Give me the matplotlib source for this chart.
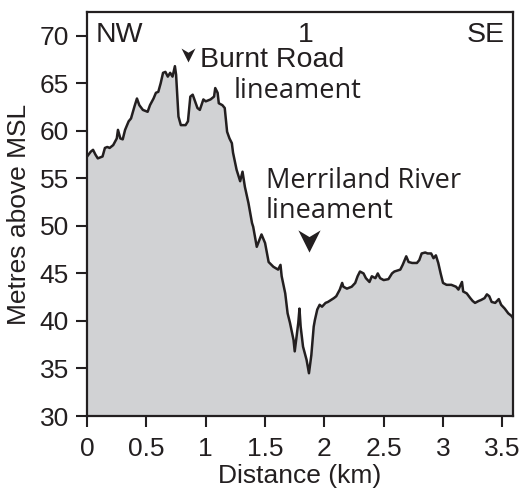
import numpy as np
import matplotlib.pyplot as plt
from matplotlib.path import Path

# profile 1: distance (km) vs elevation (m above MSL)
dist_km = [0.00, 0.03, 0.05, 0.07, 0.09, 0.13, 0.15, 0.17, 0.19, 0.22,
           0.25, 0.26, 0.28, 0.30, 0.32, 0.35, 0.37, 0.40, 0.42, 0.44,
           0.47, 0.51, 0.53, 0.56, 0.58, 0.60, 0.62, 0.64, 0.66, 0.68,
           0.70, 0.72, 0.74, 0.75, 0.77, 0.79, 0.83, 0.85, 0.87, 0.89,
           0.91, 0.93, 0.95, 0.98, 1.00, 1.04, 1.07, 1.08, 1.10, 1.11,
           1.14, 1.16, 1.18, 1.20, 1.22, 1.23, 1.26, 1.29, 1.31, 1.33,
           1.36, 1.39, 1.40, 1.43, 1.47, 1.50, 1.53, 1.57, 1.61, 1.63,
           1.64, 1.67, 1.69, 1.71, 1.74, 1.75, 1.78, 1.79, 1.80, 1.82,
           1.85, 1.87, 1.89, 1.91, 1.92, 1.94, 1.96, 1.98, 2.01, 2.03,
           2.08, 2.10, 2.13, 2.15, 2.16, 2.19, 2.23, 2.26, 2.28, 2.30,
           2.33, 2.35, 2.38, 2.40, 2.43, 2.45, 2.47, 2.50, 2.54, 2.57,
           2.59, 2.64, 2.66, 2.69, 2.71, 2.74, 2.78, 2.80, 2.82, 2.85,
           2.87, 2.90, 2.92, 2.94, 2.96, 2.98, 3.00, 3.03, 3.07, 3.11,
           3.13, 3.16, 3.17, 3.20, 3.23, 3.25, 3.27, 3.30, 3.32, 3.35,
           3.37, 3.39, 3.41, 3.44, 3.47, 3.49, 3.52, 3.55, 3.58, 3.59]
elev_m = [57.3, 57.8, 58.0, 57.5, 57.1, 57.3, 58.2, 58.3, 58.2, 58.5,
          59.2, 60.1, 59.2, 59.1, 60.1, 61.0, 61.3, 62.6, 63.4, 62.7,
          62.2, 62.0, 62.7, 63.4, 64.0, 64.1, 65.0, 66.1, 66.2, 65.7,
          66.1, 65.7, 66.8, 65.9, 61.5, 60.6, 60.6, 61.0, 63.6, 63.8,
          63.1, 62.4, 62.2, 63.3, 63.1, 63.3, 63.6, 64.5, 64.0, 62.9,
          62.7, 62.4, 59.9, 59.2, 58.7, 57.7, 55.9, 54.7, 55.7, 54.1,
          52.4, 50.3, 49.9, 47.8, 49.1, 48.2, 46.2, 45.7, 45.4, 45.9,
          44.7, 42.9, 40.8, 39.8, 38.0, 36.8, 39.8, 41.3, 39.4, 37.3,
          35.9, 34.5, 36.4, 39.4, 40.1, 41.2, 41.7, 41.5, 41.9, 42.0,
          42.4, 42.6, 43.3, 44.0, 43.6, 43.4, 43.6, 44.0, 44.7, 45.2,
          45.0, 44.5, 44.1, 44.7, 44.5, 45.0, 44.5, 44.3, 44.4, 45.0,
          45.2, 45.4, 45.9, 46.8, 46.2, 46.1, 46.1, 46.4, 47.1, 47.2,
          47.1, 47.1, 46.6, 46.9, 46.1, 45.0, 44.0, 43.8, 43.8, 43.6,
          43.3, 44.1, 43.1, 42.9, 42.4, 42.1, 41.9, 42.1, 42.2, 42.4,
          42.8, 42.6, 42.0, 41.9, 42.3, 41.7, 41.3, 40.8, 40.5, 40.3]

x_ticks = [0, 0.5, 1, 1.5, 2, 2.5, 3, 3.5]
x_tick_labels = ["0", "0.5", "1", "1.5", "2", "2.5", "3", "3.5"]
y_ticks = [30, 35, 40, 45, 50, 55, 60, 65, 70]

ink = "#231f20"
plt.rcParams['font.family'] = ['Liberation Sans', 'DejaVu Sans']

fig = plt.figure(figsize=(5.28, 4.91), dpi=100)
ax = fig.add_axes([0.165, 0.1527, 0.8066, 0.8229])

ax.fill_between(dist_km, elev_m, 30, color="#d1d2d4", lw=0)
ax.plot(dist_km, elev_m, color=ink, lw=1.8, solid_joinstyle='round')

ax.set_xlim(0, 3.59)
ax.set_ylim(30, 72.5)
ax.set_xticks(x_ticks)
ax.set_xticklabels(x_tick_labels)
ax.set_yticks(y_ticks)
ax.tick_params(direction='out', length=8, width=1.5, color=ink,
               labelsize=19, labelcolor=ink, pad=5)
ax.tick_params(axis='x', pad=7)
for s in ax.spines.values():
    s.set_linewidth(1.6)
    s.set_color(ink)

ax.set_xlabel("Distance (km)", fontsize=19, color=ink, labelpad=2)
ax.set_ylabel("Metres above MSL", fontsize=19, color=ink, labelpad=6)

# corner labels
ax.text(0.019, 0.926, "NW", transform=ax.transAxes, fontsize=20.5,
        color=ink, va='baseline', ha='left')
ax.text(0.514, 0.926, "1", transform=ax.transAxes, fontsize=20.5,
        color=ink, va='baseline', ha='center')
ax.text(0.981, 0.926, "SE", transform=ax.transAxes, fontsize=20.5,
        color=ink, va='baseline', ha='right')

# lineament annotations
ax.text(0.265, 0.864, "Burnt Road", transform=ax.transAxes, fontsize=20.5,
        color=ink, va='baseline', ha='left')
ax.text(0.343, 0.787, "lineament", transform=ax.transAxes, fontsize=19.5,
        color=ink, va='baseline', ha='left', family='Open Sans')
ax.text(0.420, 0.564, "Merriland River", transform=ax.transAxes,
        fontsize=19.5, color=ink, va='baseline', ha='left',
        family='Open Sans')
ax.text(0.420, 0.490, "lineament", transform=ax.transAxes, fontsize=19.5,
        color=ink, va='baseline', ha='left', family='Open Sans')

arrow = Path([(-0.5, 0.5), (0, 0.2), (0.5, 0.5), (0, -0.5), (-0.5, 0.5)],
             [Path.MOVETO, Path.LINETO, Path.LINETO, Path.LINETO,
              Path.CLOSEPOLY])
ax.plot([0.236], [0.894], transform=ax.transAxes, marker=arrow,
        markersize=10, color=ink, mew=0)
ax.plot([0.521], [0.433], transform=ax.transAxes, marker=arrow,
        markersize=16, color=ink, mew=0)

fig.savefig("out.png", dpi=100)
